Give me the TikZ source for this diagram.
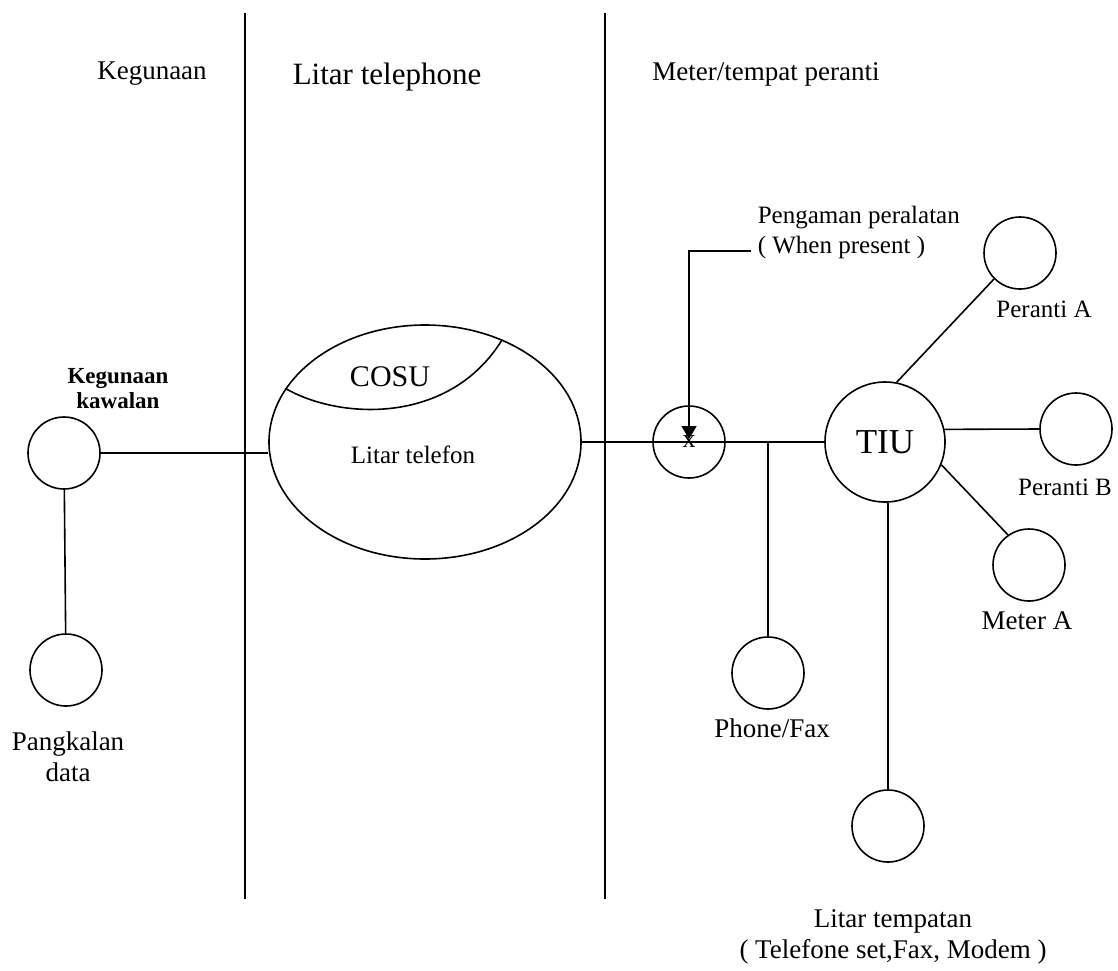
\documentclass[tikz,border=0pt]{standalone}
\usepackage{fontspec}
\setmainfont{Liberation Serif}
\usetikzlibrary{shapes.geometric,arrows.meta}

\begin{document}
\begin{tikzpicture}[x=1pt,y=-1pt, line width=1.6pt,
                    main node/.style={circle,draw,minimum size=72pt,inner sep=0pt},
                    txt/.style={inner sep=0pt,align=center,font=\fontsize{27}{31}\selectfont},
                    small txt/.style={txt,font=\fontsize{25}{30}\selectfont}]

  \useasboundingbox (0,0) rectangle (1118,970);

  % column lines
  \draw (245,13) -- (245,899);
  \draw (605,13) -- (605,899);

  \node[txt] (h1) at (152,74) {Kegunaan};
  \node[txt,font=\fontsize{31}{36}\selectfont] (h2) at (387,77) {Litar telephone};
  \node[txt] (h3) at (766,74) {Meter/tempat peranti};

  \node[main node] (kk) at (64,453) {};
  \node[main node] (pd) at (66,670) {};
  \node[draw,ellipse,minimum width=312pt,minimum height=234pt,inner sep=0pt] (lt) at (425,442) {};
  \node[main node,font=\fontsize{26}{26}\selectfont] (pg) at (689,442) {x};
  \node[main node,minimum size=120pt,font=\fontsize{35}{35}\selectfont] (tiu) at (885,442) {TIU};
  \node[main node] (pf) at (768,673) {};
  \node[main node] (pa) at (1020,253) {};
  \node[main node] (pb) at (1076,429) {};
  \node[main node] (ma) at (1029,565) {};
  \node[main node] (ls) at (888,826) {};

  \node[txt,font=\bfseries\fontsize{23}{25}\selectfont] (kkl) at (118,389) {Kegunaan\\kawalan};
  \node[txt] (pdl) at (68,757) {Pangkalan\\data};
  \node[txt,font=\fontsize{30}{30}\selectfont] (cosu) at (390,377) {COSU};
  \node[small txt] (ltl) at (413,455) {Litar telefon};
  \node[small txt,align=left,anchor=west] (pgl) at (757,232) {Pengaman peralatan\\( When present )};
  \node[txt] (pfl) at (772,728) {Phone/Fax};
  \node[small txt] (pal) at (1044,309) {Peranti A};
  \node[small txt] (pbl) at (1065,487) {Peranti B};
  \node[txt] (mal) at (1027,621) {Meter A};
  \node[txt] (lsl) at (893,937) {Litar tempatan\\( Telefone set,Fax, Modem )};

  \draw (lt.159) .. controls (340,420) and (450,425) .. (lt.53);

  \draw (kk.east) -- (kk.east -| lt.west);
  \draw (kk) -- (pd);
  \draw (lt.east) -- (tiu.west);
  \draw (pf) -- (pf |- tiu.west);
  \draw (tiu.79) -- (pa.225);
  \draw (tiu.12) -- (pb.west);
  \draw (tiu.-22) -- (ma.125);
  \draw (tiu.south -| ls) -- (ls);

  \coordinate (ar) at (751,251);
  \draw[-{Triangle[width=15pt,length=13pt]}] (ar) -- (ar -| pg) -- ([yshift=3pt]pg.center);

\end{tikzpicture}
\end{document}
